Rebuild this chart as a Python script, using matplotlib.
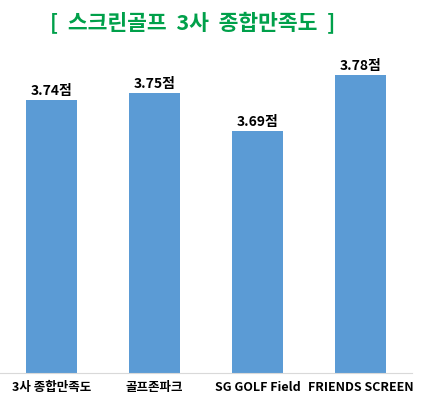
import matplotlib
matplotlib.use("Agg")
import matplotlib.pyplot as plt

plt.rcParams['font.family'] = ['Noto Sans CJK KR', 'DejaVu Sans']

categories = ["3사 종합만족도", "골프존파크", "SG GOLF Field", "FRIENDS SCREEN"]
values = [3.74, 3.75, 3.69, 3.78]
labels = ["3.74점", "3.75점", "3.69점", "3.78점"]

fig = plt.figure(figsize=(4.23, 4.15), dpi=100)
ax = fig.add_axes([0.0, 0.101, 0.974, 0.779])
x = range(len(values))
ax.bar(x, values, width=0.5, color="#5B9BD5")
for xi, v, l in zip(x, values, labels):
    ax.text(xi, v + 0.003, l, ha="center", va="bottom", fontsize=10, fontweight="bold")
ax.set_xlim(-0.5, 3.5)
ax.set_ylim(3.30, 3.82)
ax.set_yticks([])
ax.set_xticks(list(x))
ax.set_xticklabels(categories, fontsize=9, fontweight="bold")
ax.tick_params(axis="x", length=0, pad=6)
for s in ["top", "right", "left"]:
    ax.spines[s].set_visible(False)
ax.spines["bottom"].set_color("#d9d9d9")
fig.text(0.455, 0.945, "[  스크린골프  3사  종합만족도  ]", ha="center", va="center",
         fontsize=15.5, fontweight="bold", color="#00A04A")
fig.savefig("out.png", dpi=100)
